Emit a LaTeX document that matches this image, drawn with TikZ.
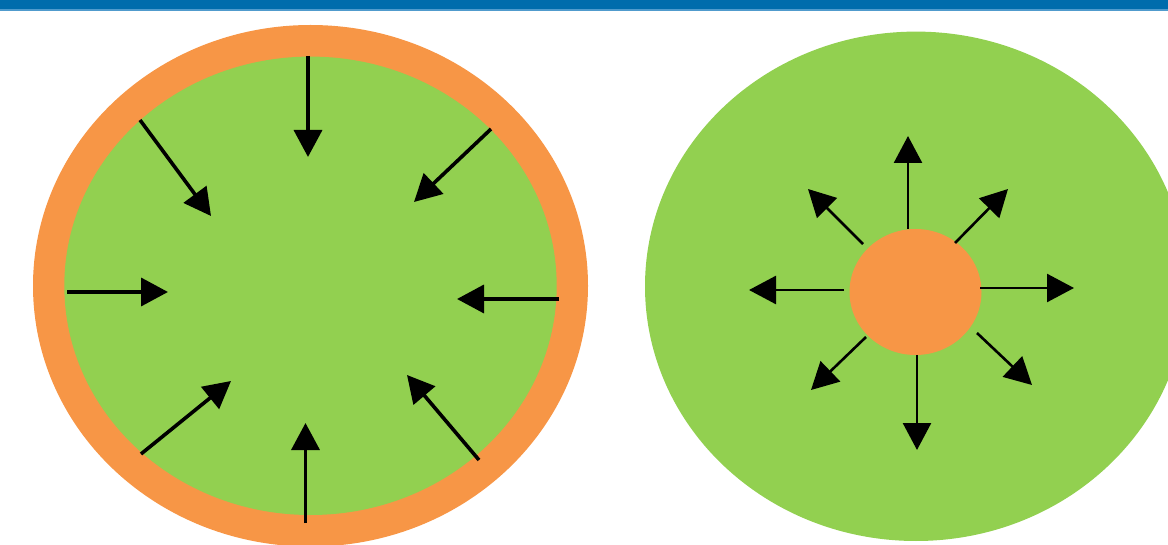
\documentclass[tikz,border=0pt]{standalone}
\usetikzlibrary{arrows.meta}

\definecolor{cgreen}{RGB}{146,208,80}
\definecolor{corange}{RGB}{247,150,70}
\definecolor{cbar}{RGB}{0,108,172}
\definecolor{cbarline}{RGB}{80,155,205}

\begin{document}
\begin{tikzpicture}[x=1pt,y=-1pt,
        inarr/.style={line width=3.6pt,-{Triangle[length=27pt,width=28pt]}},
        outarr/.style={line width=2.6pt,-{Triangle[length=27pt,width=28pt]}}]

      \clip (0,0) rectangle (1168,545);

      \fill[cbar] (0,0) rectangle (1168,9.5);                          % top bar
      \fill[cbarline] (0,9.5) rectangle (1168,10.8);

      % left: ring pressing inwards
      \fill[corange] (310.5,285.8) ellipse (277.5 and 260.8);
      \fill[cgreen]  (310.5,285.8) ellipse (246.2 and 229.2);

      \draw[inarr] (308,56)    -- (308,157);                            % top
      \draw[inarr] (491,129)   -- (414,202);                            % top right
      \draw[inarr] (559,299)   -- (457,299);                            % right
      \draw[inarr] (479,460)   -- (407,375);                            % bottom right
      \draw[inarr] (305.5,523) -- (305.5,423);                          % bottom
      \draw[inarr] (141,454)   -- (231,381);                            % bottom left
      \draw[inarr] (67,292)    -- (168,292);                            % left
      \draw[inarr] (140,120)   -- (211,216);                            % top left

      % right: core pushing outwards
      \fill[cgreen]  (916,286.3) ellipse (271 and 254.7);
      \fill[corange] (915.5,292) ellipse (66 and 63);

      \draw[outarr] (908,229) -- (908,136);                             % up
      \draw[outarr] (955,243) -- (1008,189);                            % up right
      \draw[outarr] (980,288) -- (1074,288);                            % right
      \draw[outarr] (977,333) -- (1032,385);                            % down right
      \draw[outarr] (917,355) -- (917,450);                             % down
      \draw[outarr] (866,337) -- (811,390);                             % down left
      \draw[outarr] (844,290) -- (749,290);                             % left
      \draw[outarr] (863,244) -- (808,189);                             % up left
    \end{tikzpicture}
\end{document}
